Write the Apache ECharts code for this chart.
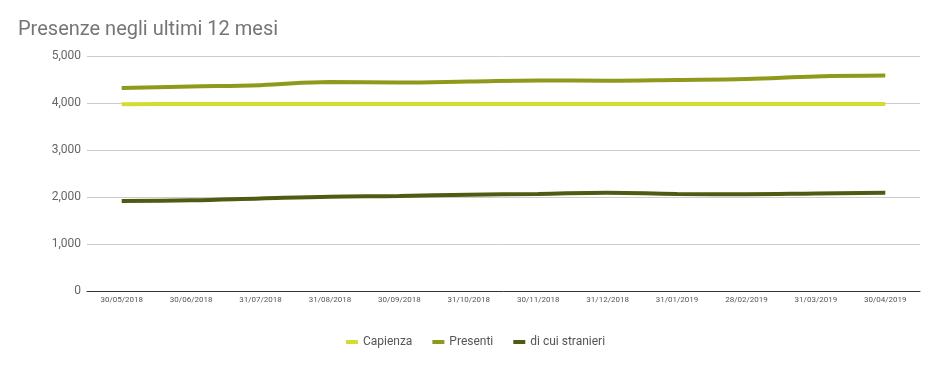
<!DOCTYPE html>
<html><head><meta charset="utf-8">
<script src="https://cdn.jsdelivr.net/npm/echarts@6/dist/echarts.min.js"></script>
<style>html,body{margin:0;padding:0;background:#fff}#c{width:951px;height:371px}</style>
</head><body><div id="c"></div>
<script>
const categories = ['30/05/2018','30/06/2018','31/07/2018','31/08/2018','30/09/2018','31/10/2018','30/11/2018','31/12/2018','31/01/2019','28/02/2019','31/03/2019','30/04/2019'];
const capienza = [3975,3980,3978,3978,3978,3978,3978,3978,3978,3978,3978,3978];
const presenti = [4320,4350,4380,4445,4435,4455,4480,4475,4490,4510,4565,4585];
const stranieri = [1915,1930,1970,2007,2020,2050,2065,2092,2064,2060,2075,2090];
const yTicks = [0,1000,2000,3000,4000,5000];

const chart = echarts.init(document.getElementById('c'));
const fmt = v => v.toLocaleString('en-US');
const mk = (name, data, color) => ({
  name, type: 'line', data, smooth: 0.4, symbol: 'none',
  lineStyle: { width: 4, color }, itemStyle: { color }
});
chart.setOption({
  animation: false,
  textStyle: { fontFamily: 'Roboto' },
  title: { text: 'Presenze negli ultimi 12 mesi', left: 13, top: 15,
    textStyle: { fontSize: 20, fontWeight: 'normal', color: '#757575', fontFamily: 'Roboto' } },
  grid: { left: 87, right: 31, top: 56, bottom: 80 },
  legend: { bottom: 18, left: 'center', itemWidth: 12, itemHeight: 4, itemGap: 20,
    icon: 'rect',
    textStyle: { fontSize: 12, color: '#555', fontFamily: 'Roboto' } },
  xAxis: { type: 'category', data: categories, boundaryGap: true,
    axisLine: { lineStyle: { color: '#333', width: 1 } },
    axisTick: { show: false },
    axisLabel: { fontSize: 8, color: '#555', margin: 5, interval: 0 } },
  yAxis: { type: 'value', min: yTicks[0], max: yTicks[yTicks.length-1], interval: 1000,
    axisLine: { show: false }, axisTick: { show: false },
    splitLine: { lineStyle: { color: '#ccc' } },
    axisLabel: { fontSize: 12, color: '#666', formatter: fmt, margin: 6 } },
  series: [
    mk('Capienza', capienza, '#d4dc30'),
    mk('Presenti', presenti, '#8f9a1c'),
    mk('di cui stranieri', stranieri, '#505a12')
  ]
});
</script></body></html>
